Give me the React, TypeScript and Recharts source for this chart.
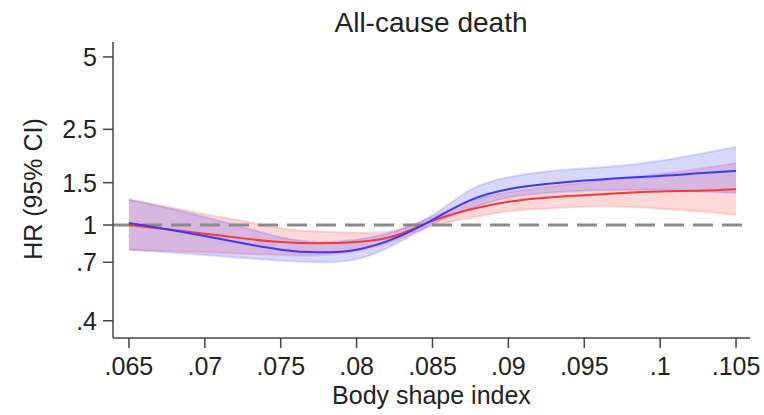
import React from 'react'
import { ComposedChart, Area, Line, XAxis, YAxis, ReferenceLine } from 'recharts'

// body shape index grid
const bsi = [
  0.065, 0.0675, 0.07, 0.0725, 0.075, 0.0775, 0.08, 0.0825, 0.085,
  0.0875, 0.09, 0.0925, 0.095, 0.0975, 0.1, 0.1025, 0.105,
]

// blue curve + 95% CI
const blueHr = [1.02, 0.96, 0.9, 0.84, 0.79, 0.77, 0.79, 0.88, 1.05, 1.27, 1.41, 1.48, 1.53, 1.57, 1.6, 1.64, 1.68]
const blueLo = [0.79, 0.77, 0.75, 0.73, 0.71, 0.7, 0.72, 0.83, 1.01, 1.17, 1.3, 1.36, 1.39, 1.4, 1.4, 1.38, 1.36]
const blueHi = [1.28, 1.18, 1.08, 0.98, 0.89, 0.85, 0.87, 0.94, 1.1, 1.4, 1.58, 1.67, 1.72, 1.77, 1.85, 1.97, 2.11]

// red curve + 95% CI
const redHr = [1.0, 0.96, 0.92, 0.88, 0.85, 0.84, 0.85, 0.9, 1.04, 1.16, 1.25, 1.3, 1.33, 1.36, 1.38, 1.39, 1.41]
const redLo = [0.79, 0.78, 0.77, 0.76, 0.75, 0.75, 0.78, 0.86, 0.99, 1.07, 1.14, 1.17, 1.19, 1.19, 1.17, 1.14, 1.1]
const redHi = [1.27, 1.19, 1.11, 1.04, 0.97, 0.94, 0.93, 0.95, 1.08, 1.26, 1.37, 1.44, 1.5, 1.56, 1.63, 1.71, 1.81]

const xTicks = [0.065, 0.07, 0.075, 0.08, 0.085, 0.09, 0.095, 0.1, 0.105]
const yTicks = [0.4, 0.7, 1, 1.5, 2.5, 5]

const data = bsi.map((x, i) => ({
  x,
  blue: blueHr[i],
  blueCi: [blueLo[i], blueHi[i]],
  red: redHr[i],
  redCi: [redLo[i], redHi[i]],
}))

const FONT = '"Liberation Sans", Arial, sans-serif'
const INK = '#222'
const AXIS = '#444'

const stataNum = (v: number) => String(v).replace(/^0\./, '.')

function XTitle({ viewBox }: any) {
  return (
    <text
      x={viewBox.x + viewBox.width / 2}
      y={viewBox.y + 66}
      textAnchor="middle"
      fontSize={25}
      fontFamily={FONT}
      fill={INK}
    >
      Body shape index
    </text>
  )
}

function YTitle({ viewBox }: any) {
  const cx = viewBox.x + 42
  const cy = viewBox.y + viewBox.height / 2 - 1
  return (
    <text
      x={cx}
      y={cy}
      transform={`rotate(-90, ${cx}, ${cy})`}
      textAnchor="middle"
      fontSize={25}
      fontFamily={FONT}
      fill={INK}
    >
      HR (95% CI)
    </text>
  )
}

export default function App() {
  return (
    <div style={{ position: 'absolute', left: 0, top: 0, width: 764, height: 415, background: '#fff' }}>
      <svg width={764} height={42} style={{ position: 'absolute', left: 0, top: 0 }}>
        <text x={431} y={32} textAnchor="middle" fontSize={28} fontFamily={FONT} fill={INK}>
          All-cause death
        </text>
      </svg>
      <ComposedChart
        width={764}
        height={415}
        data={data}
        margin={{ top: 42, right: 14, bottom: 0, left: 0 }}
      >
        <XAxis
          dataKey="x"
          type="number"
          domain={[0.06395, 0.10592]}
          allowDataOverflow
          ticks={xTicks}
          tickFormatter={stataNum}
          height={77}
          tickSize={10}
          tickMargin={9}
          stroke={AXIS}
          strokeWidth={1.5}
          tick={{ fill: INK, fontSize: 25, fontFamily: FONT }}
          label={<XTitle />}
        />
        <YAxis
          type="number"
          scale="log"
          domain={[0.339, 5.77]}
          allowDataOverflow
          ticks={yTicks}
          tickFormatter={stataNum}
          width={113}
          tickSize={10}
          tickMargin={6}
          stroke={AXIS}
          strokeWidth={1.5}
          tick={{ fill: INK, fontSize: 25, fontFamily: FONT }}
          label={<YTitle />}
        />
        <Area
          type="natural"
          dataKey="redCi"
          fill="#ff4a4a"
          fillOpacity={0.22}
          stroke="#ff4a4a"
          strokeOpacity={0.18}
          strokeWidth={2}
          isAnimationActive={false}
          activeDot={false}
        />
        <Area
          type="natural"
          dataKey="blueCi"
          fill="#4a4aff"
          fillOpacity={0.22}
          stroke="#4a4aff"
          strokeOpacity={0.18}
          strokeWidth={2}
          isAnimationActive={false}
          activeDot={false}
        />
        <ReferenceLine y={1} stroke="#8a8a8a" strokeWidth={3} strokeDasharray="20 9" />
        <Line
          type="natural"
          dataKey="red"
          stroke="#ff3636"
          strokeWidth={2}
          dot={false}
          activeDot={false}
          isAnimationActive={false}
        />
        <Line
          type="natural"
          dataKey="blue"
          stroke="#3a3aff"
          strokeWidth={2}
          dot={false}
          activeDot={false}
          isAnimationActive={false}
        />
      </ComposedChart>
    </div>
  )
}
